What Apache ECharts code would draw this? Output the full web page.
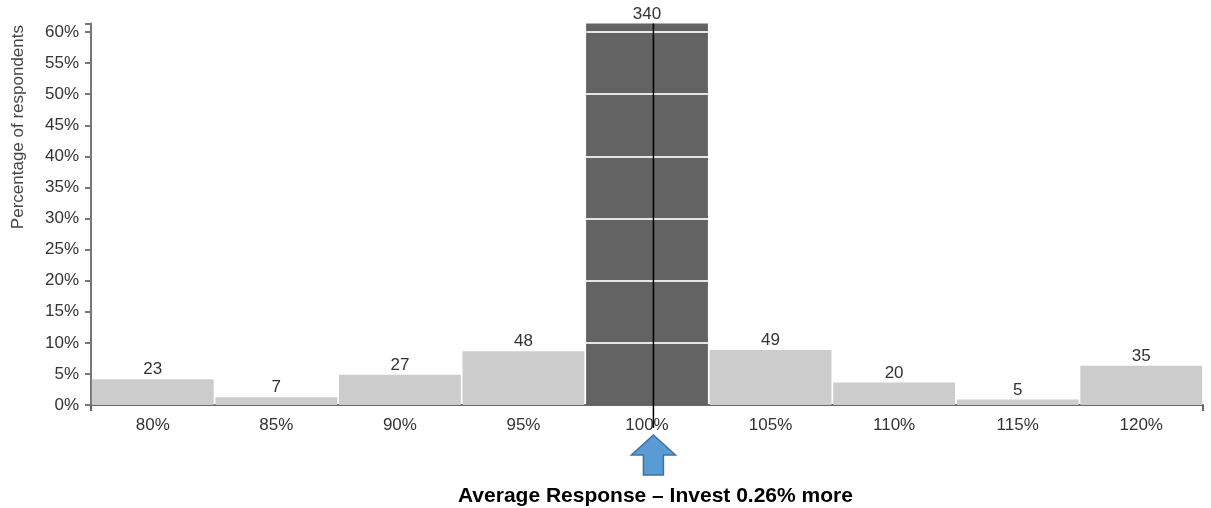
<!DOCTYPE html>
<html>
<head>
<meta charset="utf-8">
<script src="https://cdn.jsdelivr.net/npm/echarts@6/dist/echarts.min.js"></script>
<style>
html,body{margin:0;padding:0;background:#fff;}
#chart{width:1211px;height:508px;}
</style>
</head>
<body>
<div id="chart"></div>
<script>
// ---- data ----
const categories = ['80%', '85%', '90%', '95%', '100%', '105%', '110%', '115%', '120%'];
const binValues = [80, 85, 90, 95, 100, 105, 110, 115, 120];
const counts = [23, 7, 27, 48, 340, 49, 20, 5, 35];
const highlightCategory = '100%';
const highlightBin = 100;
const averageResponse = 100.26;
const gridLineValues = [0.1, 0.2, 0.3, 0.4, 0.5, 0.6];
const yAxisTitle = 'Percentage of respondents';
const footerText = 'Average Response \u2013 Invest 0.26% more';

const total = counts.reduce((a, b) => a + b, 0);
const shares = counts.map(c => c / total);
const maxShare = Math.max(...shares);
const binStep = binValues[1] - binValues[0];
const xMin = binValues[0] - binStep / 2;
const xMax = binValues[binValues.length - 1] + binStep / 2;
const gapRatio = 0.014;
const barHalf = binStep / 2 * (1 - gapRatio);

const FONT = '"Liberation Sans", Arial, sans-serif';
const chart = echarts.init(document.getElementById('chart'));

chart.setOption({
  animation: false,
  backgroundColor: '#fff',
  grid: { left: 91, right: 8, top: 23.5, bottom: 103, containLabel: false },
  xAxis: [{
    type: 'category',
    data: categories,
    axisLine: { lineStyle: { color: '#666', width: 2 } },
    axisTick: { alignWithLabel: true, length: 6, lineStyle: { color: '#666', width: 2 } },
    axisLabel: { color: '#333', fontSize: 17, fontFamily: FONT, margin: 12 },
    splitLine: { show: false }
  }, {
    type: 'value',
    position: 'bottom',
    min: xMin,
    max: xMax,
    axisLine: { show: false },
    axisTick: { show: true, length: 6, customValues: [xMin, xMax], lineStyle: { color: '#666', width: 2 } },
    axisLabel: { show: false },
    splitLine: { show: false }
  }],
  yAxis: {
    type: 'value',
    min: 0,
    max: maxShare,
    interval: 0.05,
    axisLine: { show: true, lineStyle: { color: '#777', width: 2 } },
    axisTick: { show: true, length: 6, lineStyle: { color: '#777', width: 2 } },
    axisLabel: {
      color: '#333', fontSize: 17, fontFamily: FONT, margin: 12,
      formatter: v => (Math.abs(v * 20 - Math.round(v * 20)) < 1e-6) ? Math.round(v * 100) + '%' : ''
    },
    splitLine: { show: false }
  },
  series: [{
    type: 'bar',
    xAxisIndex: 0,
    data: shares.map((s, i) => ({
      value: s,
      itemStyle: { color: categories[i] === highlightCategory ? '#636363' : '#cccccc' }
    })),
    barCategoryGap: (gapRatio * 100) + '%',
    label: {
      show: true, position: 'top', distance: 1,
      color: '#333', fontSize: 17, fontFamily: FONT,
      formatter: p => counts[p.dataIndex]
    },
    z: 2
  }, {
    type: 'scatter',
    xAxisIndex: 1,
    data: [],
    silent: true,
    markLine: {
      silent: true,
      symbol: 'none',
      label: { show: false },
      lineStyle: { color: '#e6e6e6', width: 2, type: 'solid' },
      data: gridLineValues.map(v => [
        { coord: [highlightBin - barHalf, v] },
        { coord: [highlightBin + barHalf, v] }
      ])
    },
    z: 3
  }]
});

function drawOverlay() {
  const ax = chart.convertToPixel({ xAxisIndex: 1 }, averageResponse);
  const yTop = chart.convertToPixel({ yAxisIndex: 0 }, maxShare);
  const yBase = chart.convertToPixel({ yAxisIndex: 0 }, 0);
  const tipY = yBase + 30;
  chart.setOption({
    graphic: [
      {
        type: 'line', z: 100,
        shape: { x1: ax, y1: yTop, x2: ax, y2: yBase + 23 },
        style: { stroke: '#000', lineWidth: 1.5 }
      },
      {
        type: 'polygon', z: 100,
        shape: {
          points: [
            [ax, tipY], [ax + 22, tipY + 20], [ax + 10, tipY + 20], [ax + 10, tipY + 40],
            [ax - 10, tipY + 40], [ax - 10, tipY + 20], [ax - 22, tipY + 20]
          ]
        },
        style: { fill: '#5b9bd5', stroke: '#41719c', lineWidth: 1.5 }
      },
      {
        type: 'text', z: 100,
        x: ax + 2, y: tipY + 61,
        style: {
          text: footerText, fill: '#000', font: 'bold 21px ' + FONT,
          align: 'center', verticalAlign: 'middle'
        }
      },
      {
        type: 'text', z: 100,
        x: 18, y: 25, rotation: Math.PI / 2,
        style: {
          text: yAxisTitle, fill: '#444', font: '17px ' + FONT,
          align: 'right', verticalAlign: 'middle'
        }
      }
    ]
  });
}
drawOverlay();
</script>
</body>
</html>
